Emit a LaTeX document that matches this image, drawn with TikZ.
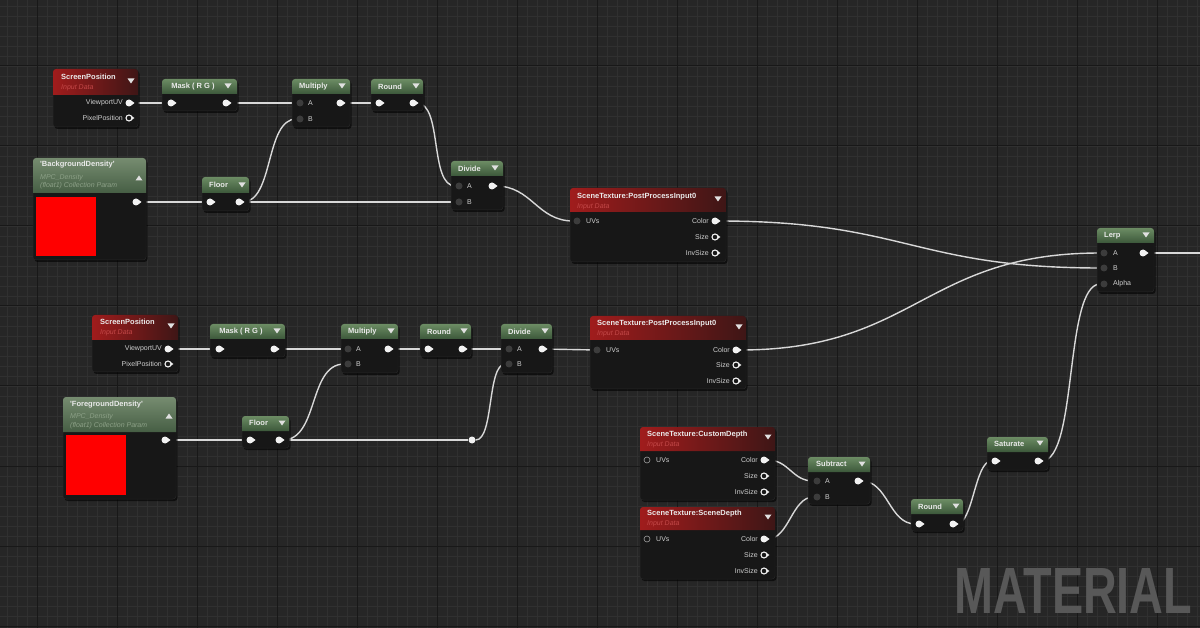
\documentclass[tikz,border=0pt]{standalone}
\usepackage{fontspec}
\setmainfont{Liberation Sans}
\usepackage{graphicx}
\usetikzlibrary{fit,shadows}
\definecolor{bg}{HTML}{262626}
\definecolor{gridminor}{HTML}{303030}
\definecolor{gridmajor}{HTML}{181818}
\definecolor{nodebody}{HTML}{171717}
\definecolor{hdrRedL}{RGB}{160,28,28}
\definecolor{hdrRedR}{RGB}{62,22,22}
\definecolor{hdrGrnT}{RGB}{108,140,100}
\definecolor{hdrGrnB}{RGB}{60,88,58}
\definecolor{hdrParT}{RGB}{118,140,112}
\definecolor{hdrParB}{RGB}{70,94,68}
\definecolor{titlec}{HTML}{EAEAEA}
\definecolor{lblc}{HTML}{CFCFCF}
\definecolor{subred}{RGB}{195,72,72}
\definecolor{subpar}{RGB}{140,160,135}
\definecolor{pinw}{HTML}{F2F2F2}
\definecolor{pindark}{HTML}{3C3C3C}
\definecolor{wirec}{HTML}{D8D8D8}
\definecolor{tric}{HTML}{E0E0E0}
\definecolor{watermark}{HTML}{585858}
\pgfdeclarelayer{gridlayer}
\pgfdeclarelayer{wirelayer}
\pgfsetlayers{gridlayer,wirelayer,main}
\newcommand\uebox[7]{%
  \node[body, fit={(#2,#3) (#4,#5)}] (#1) {};
  \shade[#7] (#2,#6) [rounded corners=3pt] -- (#2,#3) -- (#4,#3) [sharp corners] -- (#4,#6) -- cycle;}
\newcommand\uetitle[4]{\node[ttl] (#1-t) at (#2,#3) {#4};}
\newcommand\uesubred[4]{\node[subt, text=subred] (#1) at (#2,#3) {#4};}
\newcommand\uesubpar[4]{\node[subt, text=subpar] (#1) at (#2,#3) {#4};}
\newcommand\uedtri[2]{\fill[tric] ([shift={(-3.5,-2.5)}]#1,#2) -- ([shift={(3.5,-2.5)}]#1,#2) -- ([shift={(0,2.5)}]#1,#2) -- cycle;}
\newcommand\ueutri[2]{\fill[tric] ([shift={(-3.5,2.5)}]#1,#2) -- ([shift={(3.5,2.5)}]#1,#2) -- ([shift={(0,-2.5)}]#1,#2) -- cycle;}
\newcommand\uenub[1]{\fill[pinw] (#1.east) ++(-0.8,-2) -- ++(2.6,2) -- ++(-2.6,2) -- cycle;}
\newcommand\ueopin[3]{\node[opin] (#1) at (#2,#3) {}; \uenub{#1}}
\newcommand\uewpin[3]{\node[opin] (#1) at (#2,#3) {}; \uenub{#1}}
\newcommand\ueipin[3]{\node[ipin] (#1) at (#2,#3) {};}
\newcommand\uehpin[3]{\node[hpin] (#1) at (#2,#3) {}; \uenub{#1}}
\newcommand\uehdpin[3]{\node[hdpin] (#1) at (#2,#3) {};}
\newcommand\uelblR[4]{\node[plbl, anchor=east] (#1) at (#2,#3) {#4};}
\newcommand\uelblL[4]{\node[plbl, anchor=west] (#1) at (#2,#3) {#4};}
\begin{document}
\begin{tikzpicture}[x=1pt,y=-1pt,
  body/.style={fill=nodebody, draw=black!85, line width=0.5pt, rounded corners=3pt, inner sep=0pt,
    drop shadow={shadow xshift=1.5pt, shadow yshift=-2pt, opacity=0.6, fill=black}},
  redh/.style={left color=hdrRedL, right color=hdrRedR},
  greenh/.style={top color=hdrGrnT, bottom color=hdrGrnB},
  paramh/.style={top color=hdrParT, bottom color=hdrParB},
  ttl/.style={text=titlec, font=\fontsize{7.5}{9}\selectfont\bfseries, inner sep=0pt, anchor=west},
  subt/.style={font=\fontsize{7}{8}\selectfont\itshape, inner sep=0pt, anchor=west},
  plbl/.style={text=lblc, font=\fontsize{7}{8}\selectfont, inner sep=0pt},
  opin/.style={circle, fill=pinw, inner sep=0pt, minimum size=7pt},
  ipin/.style={circle, fill=pindark, inner sep=0pt, minimum size=7pt},
  hpin/.style={circle, draw=pinw, line width=1.1pt, inner sep=0pt, minimum size=6pt},
  hdpin/.style={circle, draw=gray!75, line width=0.6pt, inner sep=0pt, minimum size=6pt},
  knot/.style={circle, fill=pinw, inner sep=0pt, minimum size=7pt},
  wire/.style={draw=wirec, line width=1.4pt},
  wmark/.style={text=watermark, inner sep=0pt, font=\bfseries}]
\useasboundingbox (0,0) rectangle (1200,628);
\begin{pgfonlayer}{gridlayer}
\fill[bg] (0,0) rectangle (1200,628);
\foreach \x in {7,17,...,1197} \draw[gridminor, line width=0.6pt] (\x,0) -- (\x,628);
\foreach \y in {6,16,...,626} \draw[gridminor, line width=0.6pt] (0,\y) -- (1200,\y);
\foreach \x in {37,117,...,1157} \draw[gridmajor, line width=1pt] (\x,0) -- (\x,628);
\foreach \y in {66,146,...,626} \draw[gridmajor, line width=1pt] (0,\y) -- (1200,\y);
\end{pgfonlayer}

% watermark
\node[wmark, anchor=base west] (wm) at (954,613) {\resizebox{238pt}{45pt}{MATERIAL}};

% ===== top chain =====
\uebox{sp1}{53}{69}{138}{127}{95}{redh}
\uetitle{sp1}{61}{77}{ScreenPosition}
\uesubred{sp1-s}{61}{88}{Input Data}
\uedtri{131}{81}
\ueopin{sp1uv}{129}{103} \uelblR{sp1uv-l}{123}{103}{ViewportUV}
\uehpin{sp1pp}{129}{118} \uelblR{sp1pp-l}{123}{118}{PixelPosition}

\uebox{mask1}{162}{79}{237}{111}{94}{greenh}
\node[ttl, anchor=center] (mask1-t) at (193,87) {Mask ( R G )};
\uedtri{228}{86}
\uewpin{mask1i}{171}{103}
\ueopin{mask1o}{226}{103}

\uebox{mul1}{292}{79}{350}{127}{94}{greenh}
\uetitle{mul1}{299}{87}{Multiply}
\uedtri{342}{86}
\ueipin{mul1a}{300}{103} \uelblL{mul1a-l}{308}{103}{A}
\ueipin{mul1b}{300}{119} \uelblL{mul1b-l}{308}{119}{B}
\ueopin{mul1o}{340}{103}

\uebox{rnd1}{371}{79}{423}{111}{94}{greenh}
\uetitle{rnd1}{378}{87}{Round}
\uedtri{416}{86}
\uewpin{rnd1i}{379}{103}
\ueopin{rnd1o}{413}{103}

\uebox{bd}{33}{158}{146}{260}{193}{paramh}
\uetitle{bd}{40}{165}{\textquotesingle BackgroundDensity\textquotesingle}
\uesubpar{bd-s1}{40}{178}{MPC\_Density}
\uesubpar{bd-s2}{40}{186}{(float1) Collection Param}
\ueutri{139}{178}
\fill[red] (36,197) rectangle (96,256);
\ueopin{bdo}{136}{202}

\uebox{flr1}{202}{177}{249}{211}{193}{greenh}
\uetitle{flr1}{209}{185}{Floor}
\uedtri{242}{185}
\uewpin{flr1i}{210}{202}
\ueopin{flr1o}{239}{202}

\uebox{div1}{451}{161}{503}{210}{176}{greenh}
\uetitle{div1}{458}{169}{Divide}
\uedtri{495}{168}
\ueipin{div1a}{459}{186} \uelblL{div1a-l}{467}{186}{A}
\ueipin{div1b}{459}{202} \uelblL{div1b-l}{467}{202}{B}
\ueopin{div1o}{492}{186}

\uebox{pp1}{570}{188}{726}{262}{212}{redh}
\uetitle{pp1}{577}{197}{SceneTexture:PostProcessInput0}
\uesubred{pp1-s}{577}{207}{Input Data}
\uedtri{718}{199}
\ueipin{pp1uv}{577}{221} \uelblL{pp1uv-l}{586}{221}{UVs}
\ueopin{pp1c}{715}{221} \uelblR{pp1c-l}{709}{221}{Color}
\uehpin{pp1s}{715}{237} \uelblR{pp1s-l}{709}{237}{Size}
\uehpin{pp1i}{715}{253} \uelblR{pp1i-l}{709}{253}{InvSize}

\uebox{lerp}{1097}{228}{1154}{292}{243}{greenh}
\uetitle{lerp}{1104}{236}{Lerp}
\uedtri{1146}{235}
\ueipin{lerpa}{1104}{253} \uelblL{lerpa-l}{1113}{253}{A}
\ueipin{lerpb}{1104}{268} \uelblL{lerpb-l}{1113}{268}{B}
\ueipin{lerpal}{1104}{284} \uelblL{lerpal-l}{1113}{284}{Alpha}
\ueopin{lerpo}{1143}{253}
\coordinate (exit) at (1200,253);

\uebox{sat}{987}{437}{1048}{470}{452}{greenh}
\uetitle{sat}{994}{444}{Saturate}
\uedtri{1040}{443}
\uewpin{sati}{995}{461}
\ueopin{sato}{1038}{461}

% ===== bottom chain =====
\uebox{sp2}{92}{315}{178}{372}{340}{redh}
\uetitle{sp2}{100}{322}{ScreenPosition}
\uesubred{sp2-s}{100}{333}{Input Data}
\uedtri{171}{326}
\ueopin{sp2uv}{168}{349} \uelblR{sp2uv-l}{162}{349}{ViewportUV}
\uehpin{sp2pp}{168}{364} \uelblR{sp2pp-l}{162}{364}{PixelPosition}

\uebox{mask2}{210}{324}{285}{357}{339}{greenh}
\node[ttl, anchor=center] (mask2-t) at (241,332) {Mask ( R G )};
\uedtri{277}{331}
\uewpin{mask2i}{219}{349}
\ueopin{mask2o}{274}{349}

\uebox{mul2}{341}{324}{398}{373}{339}{greenh}
\uetitle{mul2}{348}{332}{Multiply}
\uedtri{391}{331}
\ueipin{mul2a}{348}{349} \uelblL{mul2a-l}{356}{349}{A}
\ueipin{mul2b}{348}{364} \uelblL{mul2b-l}{356}{364}{B}
\ueopin{mul2o}{388}{349}

\uebox{rnd2}{420}{324}{471}{357}{339}{greenh}
\uetitle{rnd2}{427}{332}{Round}
\uedtri{464}{331}
\uewpin{rnd2i}{428}{349}
\ueopin{rnd2o}{462}{349}

\uebox{div2}{501}{324}{552}{373}{339}{greenh}
\uetitle{div2}{508}{332}{Divide}
\uedtri{545}{331}
\ueipin{div2a}{509}{349} \uelblL{div2a-l}{517}{349}{A}
\ueipin{div2b}{509}{364} \uelblL{div2b-l}{517}{364}{B}
\ueopin{div2o}{542}{349}

\uebox{fd}{63}{397}{176}{499}{432}{paramh}
\uetitle{fd}{70}{405}{\textquotesingle ForegroundDensity\textquotesingle}
\uesubpar{fd-s1}{70}{417}{MPC\_Density}
\uesubpar{fd-s2}{70}{426}{(float1) Collection Param}
\ueutri{169}{416}
\fill[red] (66,435) rectangle (126,495);
\ueopin{fdo}{165}{440}

\uebox{flr2}{242}{416}{289}{448}{431}{greenh}
\uetitle{flr2}{249}{423}{Floor}
\uedtri{282}{423}
\uewpin{flr2i}{250}{440}
\ueopin{flr2o}{279}{440}

\node[knot] (knot) at (472,440) {};

\uebox{pp2}{590}{316}{746}{389}{340}{redh}
\uetitle{pp2}{597}{324}{SceneTexture:PostProcessInput0}
\uesubred{pp2-s}{597}{334}{Input Data}
\uedtri{739}{327}
\ueipin{pp2uv}{597}{350} \uelblL{pp2uv-l}{606}{350}{UVs}
\ueopin{pp2c}{736}{350} \uelblR{pp2c-l}{730}{350}{Color}
\uehpin{pp2s}{736}{365} \uelblR{pp2s-l}{730}{365}{Size}
\uehpin{pp2i}{736}{381} \uelblR{pp2i-l}{730}{381}{InvSize}

\uebox{cd}{640}{427}{775}{500}{451}{redh}
\uetitle{cd}{647}{435}{SceneTexture:CustomDepth}
\uesubred{cd-s}{647}{445}{Input Data}
\uedtri{768}{437}
\uehdpin{cduv}{647}{460} \uelblL{cduv-l}{656}{460}{UVs}
\ueopin{cdc}{764}{460} \uelblR{cdc-l}{758}{460}{Color}
\uehpin{cds}{764}{476} \uelblR{cds-l}{758}{476}{Size}
\uehpin{cdi}{764}{492} \uelblR{cdi-l}{758}{492}{InvSize}

\uebox{sd}{640}{507}{775}{579}{530}{redh}
\uetitle{sd}{647}{514}{SceneTexture:SceneDepth}
\uesubred{sd-s}{647}{524}{Input Data}
\uedtri{768}{517}
\uehdpin{sduv}{647}{539} \uelblL{sduv-l}{656}{539}{UVs}
\ueopin{sdc}{764}{539} \uelblR{sdc-l}{758}{539}{Color}
\uehpin{sds}{764}{555} \uelblR{sds-l}{758}{555}{Size}
\uehpin{sdi}{764}{571} \uelblR{sdi-l}{758}{571}{InvSize}

\uebox{sub}{808}{457}{870}{504}{472}{greenh}
\uetitle{sub}{816}{464}{Subtract}
\uedtri{862}{464}
\ueipin{suba}{817}{481} \uelblL{suba-l}{825}{481}{A}
\ueipin{subb}{817}{497} \uelblL{subb-l}{825}{497}{B}
\ueopin{subo}{858}{481}

\uebox{rnd3}{911}{499}{963}{531}{514}{greenh}
\uetitle{rnd3}{918}{507}{Round}
\uedtri{956}{506}
\uewpin{rnd3i}{919}{524}
\ueopin{rnd3o}{953}{524}

% ===== wires =====
\begin{pgfonlayer}{wirelayer}
\draw[wire] (sp1uv) -- (mask1i);
\draw[wire] (mask1o) -- (mul1a);
\draw[wire] (mul1o) -- (rnd1i);
\draw[wire] (bdo) -- (flr1i);
\draw[wire] (flr1o) .. controls +(35,0) and +(-35,0) .. (mul1b);
\draw[wire] (flr1o) -- (div1b);
\draw[wire] (rnd1o) .. controls +(30,0) and +(-30,0) .. (div1a);
\draw[wire] (div1o) .. controls +(40,0) and +(-40,0) .. (pp1uv);
\draw[wire] (pp1c) .. controls +(190,0) and +(-190,0) .. (lerpb);
\draw[wire] (pp2c) .. controls +(180,0) and +(-180,0) .. (lerpa);
\draw[wire] (sp2uv) -- (mask2i);
\draw[wire] (mask2o) -- (mul2a);
\draw[wire] (mul2o) -- (rnd2i);
\draw[wire] (rnd2o) -- (div2a);
\draw[wire] (div2o) -- (pp2uv);
\draw[wire] (fdo) -- (flr2i);
\draw[wire] (flr2o) .. controls +(40,0) and +(-40,0) .. (mul2b);
\draw[wire] (flr2o) -- (knot);
\draw[wire] (knot) .. controls +(22,0) and +(-22,0) .. (div2b);
\draw[wire] (cdc) .. controls +(25,0) and +(-25,0) .. (suba);
\draw[wire] (sdc) .. controls +(25,0) and +(-25,0) .. (subb);
\draw[wire] (subo) .. controls +(30,0) and +(-30,0) .. (rnd3i);
\draw[wire] (rnd3o) .. controls +(20,0) and +(-20,0) .. (sati);
\draw[wire] (sato) .. controls +(40,0) and +(-40,0) .. (lerpal);
\draw[wire] (lerpo) -- (exit);
\end{pgfonlayer}
\end{tikzpicture}
\end{document}
